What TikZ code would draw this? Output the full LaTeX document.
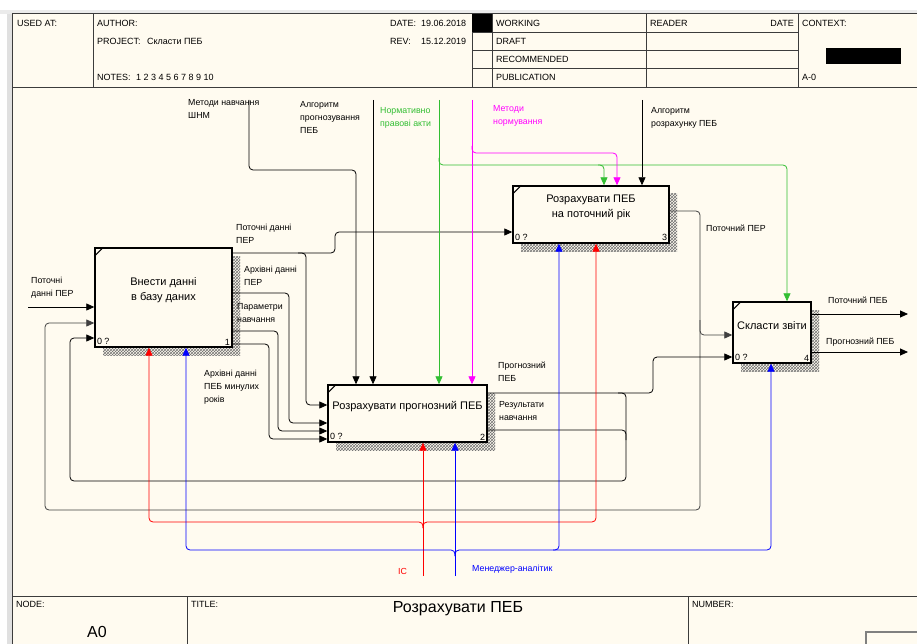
\documentclass[tikz,border=0pt]{standalone}
\usepackage{fontspec}
\setmainfont{Liberation Sans}
\usetikzlibrary{arrows.meta,patterns,positioning}
\definecolor{paper}{RGB}{255,251,240}
\definecolor{frame}{RGB}{60,60,60}
\definecolor{idefgreen}{RGB}{50,190,50}
\definecolor{idefpink}{RGB}{255,0,255}
\definecolor{idefred}{RGB}{255,0,0}
\definecolor{idefblue}{RGB}{0,0,255}
\begin{document}
\begin{tikzpicture}[x=1pt, y=-1pt,
    func/.style={draw, line width=1.4pt, fill=paper, inner sep=0pt,
      preaction={draw=none, pattern=crosshatch, pattern color=black!55,
        transform canvas={shift={(8pt,-8pt)}}}},
    ttl/.style={font=\fontsize{11}{15}\selectfont, align=center, inner sep=0pt},
    tag/.style={font=\fontsize{9}{10}\selectfont, inner sep=2.5pt},
    flow/.style={-{Triangle[length=8pt,width=7pt]}, line width=0.8pt, rounded corners=4pt},
    link/.style={line width=0.8pt, rounded corners=4pt},
    lbl/.style={font=\fontsize{8.8}{13}\selectfont, align=left, inner sep=0pt, anchor=north west},
    hdr/.style={font=\fontsize{9}{11}\selectfont, inner sep=0pt, anchor=west}]
  \useasboundingbox (0,0) rectangle (917,644);
  \fill[white] (0,0) rectangle (917,644);
  \fill[black!8] (0,10) rectangle (917,14);
  \fill[black!12] (7,14) rectangle (12,644);
  \fill[paper] (12,14) rectangle (917,644);
  \draw[frame, line width=1pt] (12,644) -- (12,14) -- (917,14);
  \draw[frame, line width=1pt] (12,88) -- (917,88);
  \draw[frame, line width=0.8pt] (93,14) -- (93,88) (472,14) -- (472,88) (492,14) -- (492,88)
    (646,14) -- (646,88) (798,14) -- (798,88)
    (472,32) -- (798,32) (472,50) -- (798,50) (472,68) -- (798,68);
  \fill (472,14) rectangle (492,32);
  \fill (826,48) rectangle (901,64);
  \draw[frame, line width=1pt] (12,596) -- (917,596) (187,596) -- (187,644) (688,596) -- (688,644);
  \draw[black!50, line width=1.2pt] (866,644) -- (866,632) -- (917,632);

  \node[hdr] (hused) at (17,23) {USED AT:};
  \node[hdr] (hauth) at (97,23) {AUTHOR:};
  \node[hdr] (hproj) at (97,41) {PROJECT:};
  \node[hdr] (hprojv) at (147,41) {Скласти ПЕБ};
  \node[hdr] (hnotes) at (97,77) {NOTES:};
  \node[hdr] (hnotesv) at (136,77) {1 2 3 4 5 6 7 8 9 10};
  \node[hdr] (hdate) at (390,23) {DATE:};
  \node[hdr] (hdatev) at (421,23) {19.06.2018};
  \node[hdr] (hrev) at (390,41) {REV:};
  \node[hdr] (hrevv) at (421,41) {15.12.2019};
  \foreach \s [count=\i] in {WORKING,DRAFT,RECOMMENDED,PUBLICATION}
    \node[hdr] (st\i) at (496,{5+18*\i}) {\s};
  \node[hdr] (hread) at (650,23) {READER};
  \node[hdr, anchor=east] (hrdate) at (794,23) {DATE};
  \node[hdr] (hctx) at (802,23) {CONTEXT:};
  \node[hdr] (hctxv) at (802,77) {A-0};
  \node[hdr] (fnode) at (16,604) {NODE:};
  \node[hdr] (ftitle) at (191,604) {TITLE:};
  \node[hdr] (fnum) at (692,604) {NUMBER:};
  \node[font=\fontsize{16}{18}\selectfont] (fnodev) at (97,632) {A0};
  \node[font=\fontsize{16}{18}\selectfont] (ftitlev) at (458,609) {Розрахувати ПЕБ};

  \node[func, minimum width=137pt, minimum height=99pt] (b1) at (163.5,297.5) {};
  \node[func, minimum width=159pt, minimum height=57pt] (b2) at (407.5,413.5) {};
  \node[func, minimum width=156pt, minimum height=57pt] (b3) at (591,214.5) {};
  \node[func, minimum width=78pt, minimum height=61pt] (b4) at (772,332.5) {};
  \node[ttl] (t1) at ([yshift=7pt]b1.center) {Внести данні\\в базу даних};
  \node[ttl] (t2) at ([yshift=7pt]b2.center) {Розрахувати прогнозний ПЕБ};
  \node[ttl] (t3) at ([yshift=7pt]b3.center) {Розрахувати ПЕБ\\на поточний рік};
  \node[ttl] (t4) at ([yshift=7pt]b4.center) {Скласти звіти};
  \foreach \b/\n in {b1/1,b2/2,b3/3,b4/4} {
    \node[tag, anchor=south west] (z\n) at (\b.south west) {0 ?};
    \node[tag, anchor=south east] (n\n) at (\b.south east) {\n};
    \draw[line width=1pt] ([yshift=-9pt]\b.north west) -- ([xshift=9pt]\b.north west);
  }

  \coordinate (inPER) at (28,307);
  \coordinate (cShnm) at (249,100);
  \coordinate (cAlgP) at (373,100);
  \coordinate (cNorm) at (439,100);
  \coordinate (cMeth) at (472,100);
  \coordinate (cAlgR) at (642,100);
  \coordinate (mIC) at (423,576);
  \coordinate (mMan) at (455,576);
  \coordinate (oPEB) at (908,314);
  \coordinate (oPPEB) at (908,352);

  \draw[flow] (inPER) -- (b1.west |- inPER);
  \draw[flow, black!75] (b3.east |- 0,211) -| (700,510) -| (45,323) -- (b1.west |- 0,323);
  \draw[flow, black!75] (700,320) |- (b4.west |- 0,335);
  \draw[flow] (b1.east |- 0,253) -| (335,232) -- (b3.west |- 0,232);
  \draw[flow] (298,253) -| (306,405) -- (b2.west |- 0,405);
  \draw[flow] (b1.east |- 0,293) -| (289,423) -- (b2.west |- 0,423);
  \draw[flow] (b1.east |- 0,331) -| (278,431) -- (b2.west |- 0,431);
  \draw[flow] (b1.east |- 0,344) -| (269,439) -- (b2.west |- 0,439);
  \draw[flow] (b2.east |- 0,393) -| (653,357) -- (b4.west |- 0,357);
  \draw[flow] (618,393) -| (626,481) -| (70,338) -- (b1.west |- 0,338);
  \draw[link] (b2.east |- 0,430) -| (626,440);

  \draw[flow] (cShnm) |- (356,170) -- (b2.north -| 356,0);
  \draw[flow] (cAlgP) -- (b2.north -| cAlgP);
  \draw[flow, idefgreen] (cNorm) -- (b2.north -| cNorm);
  \draw[flow, idefgreen] (439,158) |- (787,165) -- (b4.north -| 787,0);
  \draw[flow, idefgreen] (598,165) -| (b3.north -| 604,0);
  \draw[flow, idefpink] (cMeth) -- (b2.north -| cMeth);
  \draw[flow, idefpink] (472,146) |- (617,153) -- (b3.north -| 617,0);
  \draw[flow] (cAlgR) -- (b3.north -| cAlgR);

  \draw[flow, idefred] (mIC) -- (b2.south -| mIC);
  \draw[flow, idefred] (423,528) |- (149,522) -- (b1.south -| 149,0);
  \draw[flow, idefred] (423,528) |- (596,522) -- (b3.south -| 596,0);
  \draw[flow, idefblue] (mMan) -- (b2.south -| mMan);
  \draw[flow, idefblue] (455,556) |- (186,550) -- (b1.south -| 186,0);
  \draw[flow, idefblue] (455,556) |- (771,550) -- (b4.south -| 771,0);
  \draw[flow, idefblue] (553,550) -| (b3.south -| 559,0);

  \draw[flow] (b4.east |- 0,314) -- (oPEB);
  \draw[flow] (b4.east |- 0,352) -- (oPPEB);

  \node[lbl] (lPER) at (31,276.5) {Поточні\\данні ПЕР};
  \node[lbl] (lShnm) at (188,99.5) {Методи навчання\\ШНМ};
  \node[lbl] (lAlgP) at (300,101.5) {Алгоритм\\прогнозування\\ПЕБ};
  \node[lbl, text=idefgreen] (lNorm) at (380,107.5) {Нормативно\\правові акти};
  \node[lbl, text=idefpink] (lMeth) at (493,105.5) {Методи\\нормування};
  \node[lbl] (lAlgR) at (651,107.5) {Алгоритм\\розрахунку ПЕБ};
  \node[lbl] (lCur) at (236,223.5) {Поточні данні\\ПЕР};
  \node[lbl] (lArch) at (244,265.5) {Архівні данні\\ПЕР};
  \node[lbl] (lPar) at (237,303.5) {Параметри\\навчання};
  \node[lbl] (lArchPEB) at (204,369.5) {Архівні данні\\ПЕБ минулих\\років};
  \node[lbl] (lProg) at (498,361.5) {Прогнозний\\ПЕБ};
  \node[lbl] (lRes) at (499,401.5) {Результати\\навчання};
  \node[lbl] (lCurPER) at (706,224.5) {Поточний ПЕР};
  \node[lbl] (lCurPEB) at (828,296.5) {Поточний ПЕБ};
  \node[lbl] (lProgPEB) at (826,337.5) {Прогнозний ПЕБ};
  \node[lbl, text=idefred] (lIC) at (398,568.5) {IC};
  \node[lbl, text=idefblue] (lMan) at (472,564.5) {Менеджер-аналітик};
\end{tikzpicture}
\end{document}
